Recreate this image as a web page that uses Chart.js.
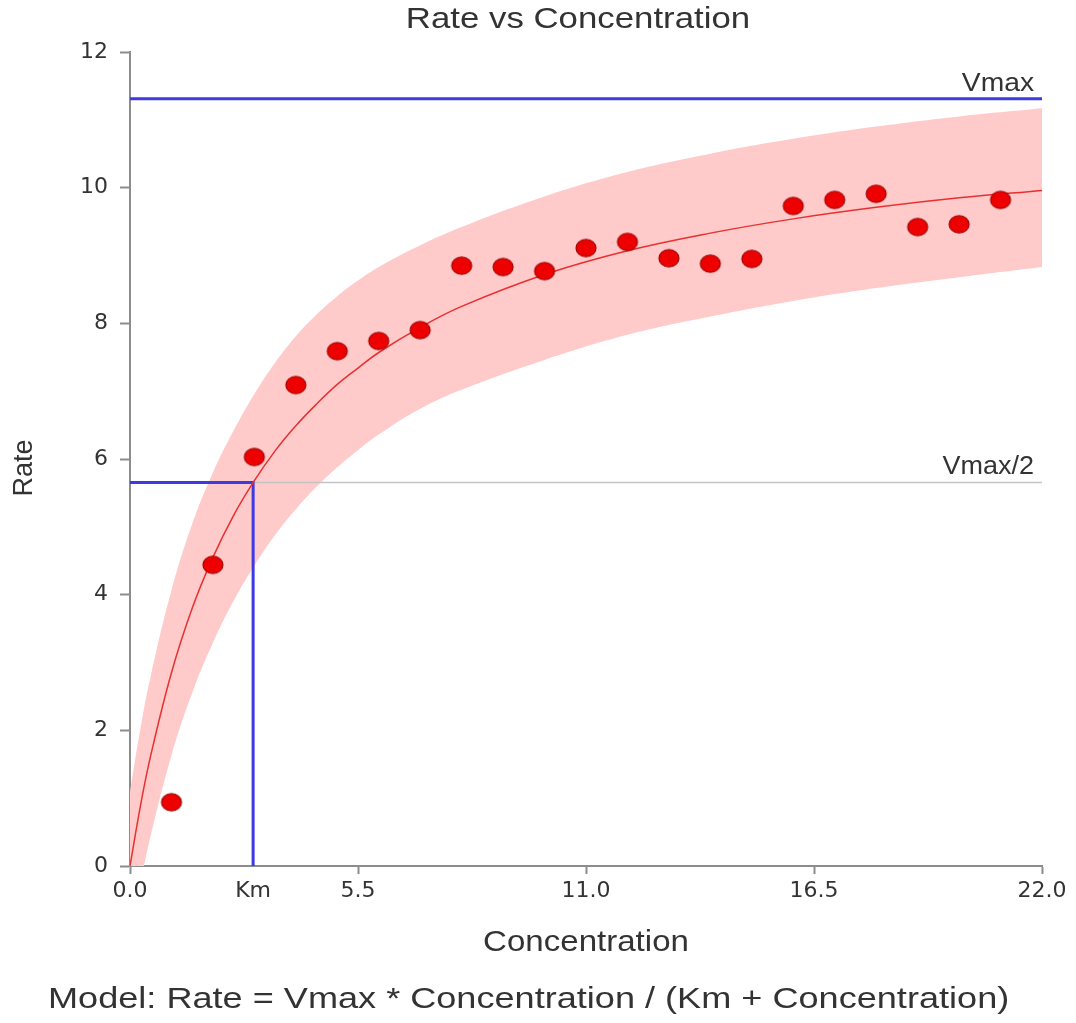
<!DOCTYPE html>
<html lang="en">
<head>
  <meta charset="utf-8"/>
  <title>Rate vs Concentration</title>
  <script src="https://cdn.jsdelivr.net/npm/chart.js"></script>
  <style>
    html, body { margin: 0; padding: 0; background: #fff; }
    #wrap { width: 1076px; height: 1023px; }
  </style>
</head>
<body>
  <div id="wrap"><canvas id="mmChart" width="1076" height="1023"></canvas></div>
  <script>
    // observed data
    const concentration = [1, 2, 3, 4, 5, 6, 7, 8, 9, 10, 11, 12, 13, 14, 15, 16, 17, 18, 19, 20, 21];
    const rate = [0.94, 4.44, 6.03, 7.09, 7.59, 7.74, 7.90, 8.85, 8.83, 8.77, 9.11, 9.20, 8.96, 8.88, 8.95, 9.73, 9.82, 9.91, 9.42, 9.46, 9.82];

    // fitted curve and band
    const fitX = [0, 0.25, 0.5, 1, 1.5, 2, 2.5, 3, 3.5, 4, 4.5, 5, 5.5, 6, 7, 8, 10, 12, 14, 16, 18, 20, 22];
    const fitY = [0, 0.88, 1.63, 2.85, 3.80, 4.55, 5.17, 5.68, 6.12, 6.49, 6.81, 7.10, 7.34, 7.57, 7.94, 8.25, 8.72, 9.07, 9.33, 9.54, 9.71, 9.85, 9.96];
    const bandUpper = [1.10, 2.02, 2.80, 4.06, 5.04, 5.80, 6.42, 6.96, 7.42, 7.81, 8.13, 8.40, 8.63, 8.83, 9.15, 9.42, 9.87, 10.23, 10.50, 10.72, 10.90, 11.05, 11.17];
    const bandLower = [-1.10, -0.27, 0.45, 1.63, 2.55, 3.29, 3.91, 4.43, 4.88, 5.26, 5.59, 5.88, 6.13, 6.36, 6.74, 7.02, 7.46, 7.83, 8.10, 8.33, 8.52, 8.68, 8.83];

    const vmax = 11.31;
    const vmaxHalf = 5.655;
    const km = 2.97;
    const xTicks = [0, 5.5, 11, 16.5, 22];
    const yTicks = [0, 2, 4, 6, 8, 10, 12];

    const pts = (xs, ys) => xs.map((x, i) => ({x: x, y: ys[i]}));
    const FONT = '"Liberation Sans", Arial, sans-serif';

    // oval marker like the original
    const dot = document.createElement('canvas');
    dot.width = 24; dot.height = 21;
    const dctx = dot.getContext('2d');
    dctx.beginPath();
    dctx.ellipse(12, 10.5, 10, 8.6, 0, 0, Math.PI * 2);
    dctx.fillStyle = '#ee0000';
    dctx.fill();
    dctx.lineWidth = 1.2;
    dctx.strokeStyle = '#a00000';
    dctx.stroke();

    // the original text is a little wider than Arial, so stretch it
    function wideText(c, str, x, y, size, sx, align) {
      c.save();
      c.font = size + 'px ' + FONT;
      c.textAlign = align;
      c.translate(x, y);
      c.scale(sx, 1);
      c.fillText(str, 0, 0);
      c.restore();
    }

    const textPlugin = {
      id: 'textPlugin',
      afterDraw(chart) {
        const c = chart.ctx;
        const ys = chart.scales.y;
        const area = chart.chartArea;
        c.save();
        c.fillStyle = '#333';
        c.textBaseline = 'middle';
        wideText(c, 'Rate vs Concentration', 578, 20, 29, 1.2, 'center');
        wideText(c, 'Concentration', (area.left + area.right) / 2, 943, 29, 1.14, 'center');
        wideText(c, 'Model: Rate = Vmax * Concentration / (Km + Concentration)', 48, 1000, 29, 1.245, 'left');
        c.textBaseline = 'alphabetic';
        wideText(c, 'Vmax', area.right - 8, ys.getPixelForValue(vmax) - 8, 25, 1.13, 'right');
        wideText(c, 'Vmax/2', area.right - 8, ys.getPixelForValue(vmaxHalf) - 8, 25, 1.08, 'right');
        c.translate(25, 468);
        c.rotate(-Math.PI / 2);
        c.textAlign = 'center';
        c.textBaseline = 'middle';
        c.font = '27px ' + FONT;
        c.fillText('Rate', 0, 0);
        c.restore();
      }
    };

    const ctx = document.getElementById('mmChart').getContext('2d');
    const mmChart = new Chart(ctx, {
      type: 'scatter',
      data: {
        datasets: [
          {
            label: 'Observed',
            data: pts(concentration, rate),
            pointStyle: dot,
            order: 0
          },
          {
            type: 'line',
            label: 'Fit',
            data: pts(fitX, fitY),
            borderColor: '#e83030',
            borderWidth: 1.5,
            pointRadius: 0,
            tension: 0.4,
            fill: false,
            order: 1
          },
          {
            type: 'line',
            label: 'Km',
            data: [{x: 0, y: vmaxHalf}, {x: km, y: vmaxHalf}, {x: km, y: 0}],
            borderColor: '#3d3ae4',
            borderWidth: 3,
            pointRadius: 0,
            fill: false,
            order: 2
          },
          {
            type: 'line',
            label: 'Vmax',
            data: [{x: 0, y: vmax}, {x: 22, y: vmax}],
            borderColor: '#3d3ae4',
            borderWidth: 3,
            pointRadius: 0,
            fill: false,
            order: 3
          },
          {
            type: 'line',
            label: 'Vmax/2',
            data: [{x: 0, y: vmaxHalf}, {x: 22, y: vmaxHalf}],
            borderColor: '#c4c4c4',
            borderWidth: 1.5,
            pointRadius: 0,
            fill: false,
            order: 4
          },
          {
            type: 'line',
            label: 'Upper',
            data: pts(fitX, bandUpper),
            borderWidth: 0,
            borderColor: 'rgba(0,0,0,0)',
            backgroundColor: '#ffcaca',
            pointRadius: 0,
            tension: 0.4,
            fill: 6,
            order: 5
          },
          {
            type: 'line',
            label: 'Lower',
            data: pts(fitX, bandLower),
            borderWidth: 0,
            borderColor: 'rgba(0,0,0,0)',
            pointRadius: 0,
            tension: 0.4,
            fill: false,
            order: 6
          }
        ]
      },
      options: {
        responsive: false,
        animation: false,
        layout: { padding: { left: 0, right: 34, top: 52, bottom: 0 } },
        plugins: {
          legend: { display: false },
          tooltip: { enabled: false },
          title: { display: false }
        },
        scales: {
          x: {
            type: 'linear',
            min: 0,
            max: 22,
            afterFit: s => { s.height = 157; },
            afterBuildTicks: s => {
              s.ticks = xTicks.concat([km]).sort((a, b) => a - b).map(v => ({value: v}));
            },
            border: { display: true, color: '#8c8c8c', width: 2 },
            grid: {
              drawOnChartArea: false,
              drawTicks: true,
              tickLength: 8,
              tickColor: c => (c.tick && c.tick.value === km) ? 'rgba(0,0,0,0)' : '#8c8c8c',
              tickWidth: 2
            },
            ticks: {
              color: '#333',
              padding: 4,
              maxRotation: 0,
              autoSkip: false,
              font: { size: 22, family: '"DejaVu Sans", sans-serif' },
              callback: v => v === km ? 'Km' : v.toFixed(1)
            }
          },
          y: {
            min: 0,
            max: 12,
            afterFit: s => { s.width = 130; },
            afterBuildTicks: s => { s.ticks = yTicks.map(v => ({value: v})); },
            border: { display: true, color: '#8c8c8c', width: 2 },
            grid: {
              drawOnChartArea: false,
              drawTicks: true,
              tickLength: 10,
              tickColor: '#8c8c8c',
              tickWidth: 2
            },
            ticks: {
              color: '#333',
              padding: 12,
              font: { size: 22, family: '"DejaVu Sans", sans-serif' }
            }
          }
        }
      },
      plugins: [textPlugin]
    });
  </script>
</body>
</html>
